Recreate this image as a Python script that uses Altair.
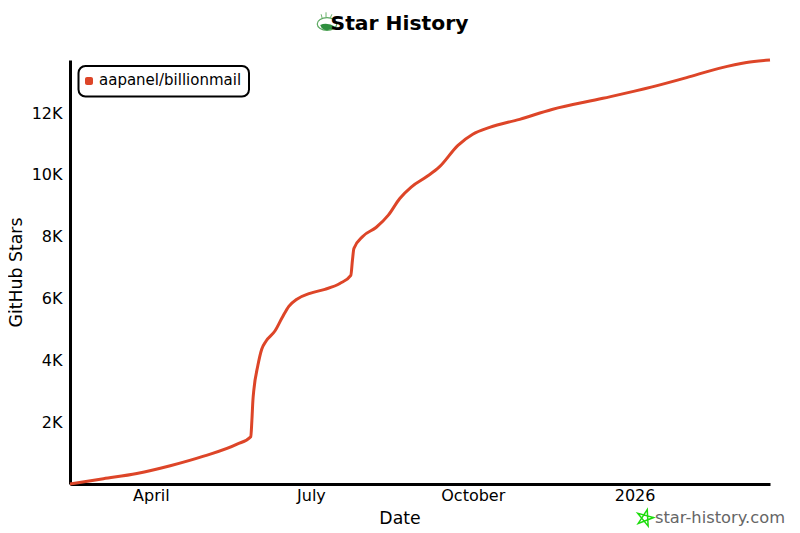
import altair as alt
import pandas as pd

dates = ["2025-02-14","2025-03-05","2025-03-24","2025-04-12","2025-05-01","2025-05-20","2025-05-27T19:00",
         "2025-05-28T10:00","2025-05-29T00:00","2025-05-29T12:00","2025-05-31T20:00","2025-06-03T00:00","2025-06-05T10:00",
         "2025-06-10T12:00","2025-06-14T12:00","2025-06-18T10:00","2025-06-23T00:00","2025-06-30T10:00","2025-07-08T22:00",
         "2025-07-17T10:00","2025-07-23T16:00","2025-07-24T14:00","2025-07-25T10:00","2025-07-30T14:00","2025-08-07",
         "2025-08-14","2025-08-20T12:00","2025-08-27","2025-09-04T16:00","2025-09-12","2025-09-22T14:00","2025-10-01",
         "2025-10-10T14:00","2025-10-27T16:00","2025-11-15","2025-12-14","2026-01-11","2026-01-30T14:00","2026-02-18",
         "2026-03-05T16:00","2026-03-19"]
stars = [0,170,340,590,900,1290,1530,2060,2710,3030,3840,4360,4620,4950,5370,5750,5980,6170,6300,6490,6750,7240,7620,
         8020,8300,8700,9240,9610,9940,10260,10960,11320,11540,11800,12120,12480,12850,13150,13450,13640,13720]
x_ticks = ["2025-04-01","2025-07-01","2025-10-01","2026-01-01"]
y_ticks = [2000,4000,6000,8000,10000,12000]
series_name = "aapanel/billionmail"
RED = "#dd4528"
FONT = "DejaVu Sans"

df = pd.DataFrame({"date": dates, "stars": stars})
one = pd.DataFrame({"k": [0]})

line = alt.Chart(df).mark_line(color=RED, strokeWidth=3, interpolate="monotone", clip=False).encode(
    x=alt.X("date:T", scale=alt.Scale(domain=["2025-02-14", "2026-03-19"]),
            axis=alt.Axis(values=x_ticks, grid=False, ticks=False, domainColor="black", domainWidth=3,
                          labelExpr="month(datum.value)==0 ? timeFormat(datum.value,'%Y') : timeFormat(datum.value,'%B')",
                          labelColor="black", labelFontSize=16, labelFont=FONT, labelPadding=3,
                          title="Date", titleFont=FONT, titleFontSize=17.3, titleFontWeight="normal",
                          titleColor="black", titlePadding=6, titleX=329.5)),
    y=alt.Y("stars:Q", scale=alt.Scale(domain=[0, 13720], nice=False),
            axis=alt.Axis(values=y_ticks, grid=False, ticks=False, domainColor="black", domainWidth=3,
                          labelExpr="(datum.value/1000)+'K'",
                          labelColor="black", labelFontSize=16, labelFont=FONT, labelPadding=8,
                          title="GitHub Stars", titleFont=FONT, titleFontSize=17.3, titleFontWeight="normal",
                          titleColor="black", titlePadding=6)),
)

def txt(s, x, y, size, color="black", weight="normal", align="left"):
    return alt.Chart(one).mark_text(font=FONT, fontSize=size, color=color, fontWeight=weight,
                                    align=align, baseline="middle", clip=False).encode(
        x=alt.value(x), y=alt.value(y), text=alt.value(s))

def sym(path, x, y, size, fill=None, stroke=None, sw=1.0, angle=0):
    kw = {"shape": path, "size": size, "clip": False, "filled": fill is not None, "opacity": 1, "angle": angle}
    if fill is not None:
        kw["fill"] = fill
    if stroke is not None:
        kw["stroke"] = stroke
        kw["strokeWidth"] = sw
    return alt.Chart(one).mark_point(**kw).encode(x=alt.value(x), y=alt.value(y))

legend_box = alt.Chart(one).mark_rect(fill="white", stroke="black", strokeWidth=2, cornerRadius=7, clip=False).encode(
    x=alt.value(8.5), x2=alt.value(179), y=alt.value(6), y2=alt.value(36.5))
legend_dot = alt.Chart(one).mark_rect(fill=RED, cornerRadius=2, clip=False).encode(
    x=alt.value(15), x2=alt.value(23), y=alt.value(17), y2=alt.value(25))
legend_txt = txt(series_name, 29, 20, 15)

title = txt("Star History", 329.5, -36.5, 20.3, weight="bold", align="center")
footer = txt("star-history.com", 585, 458, 16.3, color="#666666")

pentagram = "M0,-1 L0.59,0.81 L-0.95,-0.31 L0.95,-0.31 L-0.59,0.81 Z"
star = sym(pentagram, 575, 458, 300, stroke="#1ddc0c", sw=1.5, angle=15)
logo_ring = sym("M-1,0 A1,0.65 0 1,1 1,0 A1,0.65 0 1,1 -1,0 Z", 257, -36, 380, stroke="#5aa85f", sw=1.2)
logo_fill = sym("M-0.7,0.1 Q0,-0.25 0.9,0.3 Q0.3,0.75 -0.3,0.6 Q-0.6,0.45 -0.7,0.1 Z", 257, -36, 380, fill="#2f8f3f")
logo_rays = sym("M-0.5,-0.6 L-0.6,-1 M-0.1,-0.7 L-0.1,-1.2 M0.35,-0.65 L0.5,-1", 257, -36, 380, stroke="#6fb36f", sw=1)

chart = alt.layer(line, legend_box, legend_dot, legend_txt, logo_ring, logo_fill, logo_rays, title, star, footer).properties(
    width=700, height=424,
    autosize=alt.AutoSizeParams(type="none"),
    padding={"left": 62, "top": 52, "right": 22, "bottom": 49},
    background="white",
).configure_view(stroke=None)

chart.save("out.html", embed_options={"renderer": "svg", "actions": False})
